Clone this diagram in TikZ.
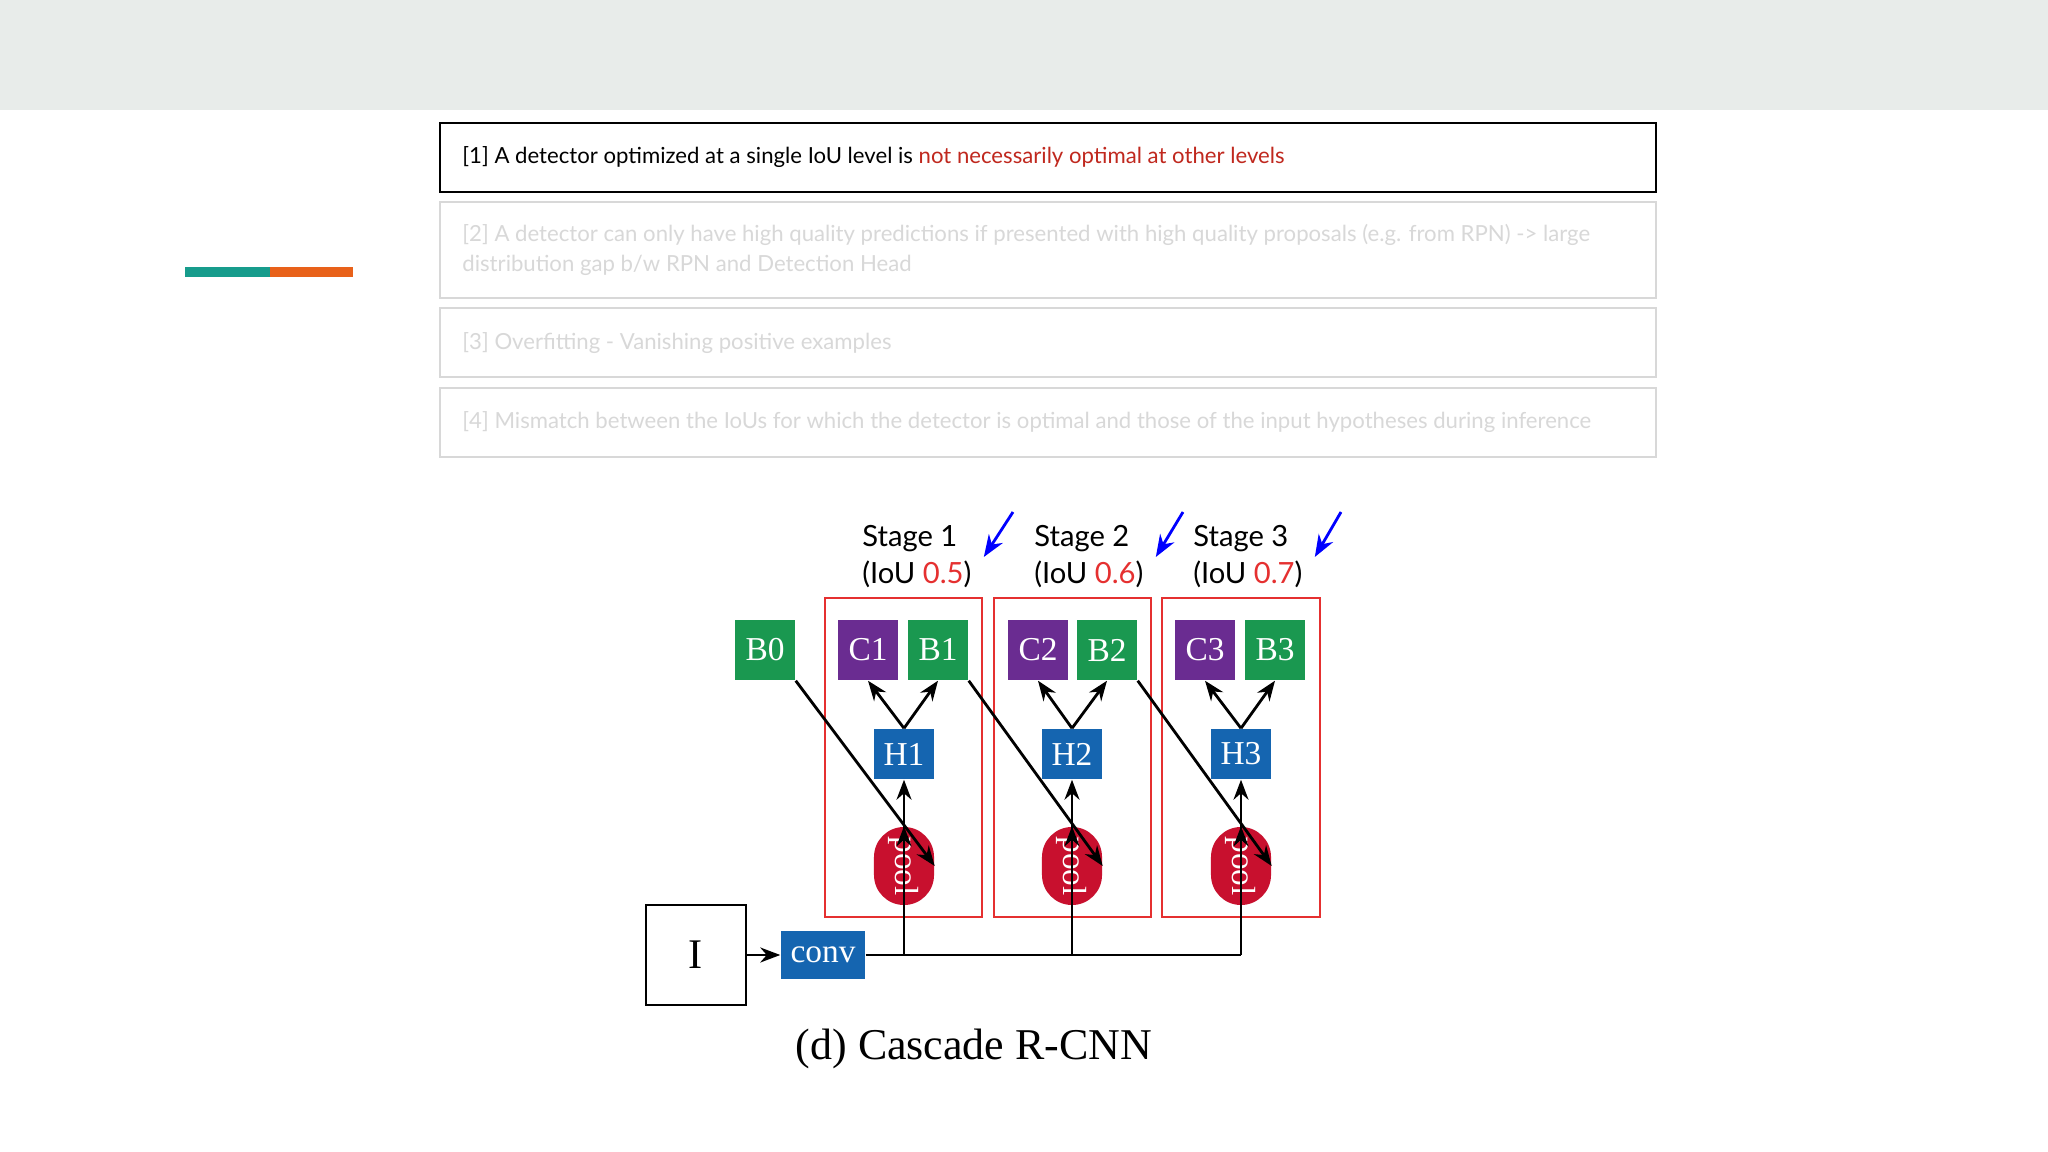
\documentclass[tikz,border=0pt]{standalone}
\usepackage{fontspec}
\setmainfont{Lato}
\newfontfamily\capfont{Liberation Serif}
\usetikzlibrary{arrows.meta,shapes.misc}
\definecolor{bandgray}{HTML}{E8ECEA}
\definecolor{teal}{HTML}{179C8C}
\definecolor{orng}{HTML}{E8611A}
\definecolor{hired}{HTML}{C0281E}
\definecolor{faint}{HTML}{D8D8D8}
\definecolor{boxgreen}{HTML}{1A9850}
\definecolor{boxpurple}{HTML}{6A2C91}
\definecolor{boxblue}{HTML}{1565B0}
\definecolor{poolred}{HTML}{C8102E}
\definecolor{stagered}{HTML}{E53030}
\tikzset{
  item/.style={anchor=west,font=\fontsize{6.3}{8.5}\selectfont,align=left},
  blk/.style={minimum width=0.6cm,minimum height=0.6cm,inner sep=0pt,text=white,font=\capfont\fontsize{9.5}{10}\selectfont},
  bbox/.style={blk,fill=boxgreen},
  cbox/.style={blk,fill=boxpurple},
  hbox/.style={blk,fill=boxblue,minimum height=0.5cm},
  pool/.style={blk,fill=poolred,rounded rectangle,minimum width=0.78cm,minimum height=0.6cm,rotate=-90},
  stage/.style={anchor=west,font=\fontsize{8.3}{10.5}\selectfont,align=left},
  arr/.style={-{Stealth[length=2mm]},thick},
  barr/.style={-{Stealth[length=2.2mm]},blue,thick}
}
\begin{document}
\begin{tikzpicture}[x=0.01cm,y=-0.01cm]
  \useasboundingbox (0,0) rectangle (2048,1152);
  \fill[white] (0,0) rectangle (2048,1152);
  \fill[bandgray] (0,0) rectangle (2048,110);

  % accent bar
  \draw[teal,line width=2.6pt] (185,272) -- (270,272);
  \draw[orng,line width=2.6pt] (270,272) -- (353,272);

  % items
  \draw[thick] (440,123) rectangle (1656,192);
  \node[item] (i1) at (450,157) {[1] A detector optimized at a single IoU level is \textcolor{hired}{not necessarily optimal at other levels}};
  \draw[faint] (440,202) rectangle (1656,298);
  \node[item,text=faint] (i2) at (450,250) {[2] A detector can only have high quality predictions if presented with high quality proposals (e.g. from RPN) -> large\\distribution gap b/w RPN and Detection Head};
  \draw[faint] (440,308) rectangle (1656,377);
  \node[item,text=faint] (i3) at (450,343) {[3] Overfitting - Vanishing positive examples};
  \draw[faint] (440,388) rectangle (1656,457);
  \node[item,text=faint] (i4) at (450,422) {[4] Mismatch between the IoUs for which the detector is optimal and those of the input hypotheses during inference};

  % stage labels
  \node[stage] (s1) at (850,557) {Stage 1\\(IoU \textcolor{stagered}{0.5})};
  \node[stage] (s2) at (1022,557) {Stage 2\\(IoU \textcolor{stagered}{0.6})};
  \node[stage] (s3) at (1181,557) {Stage 3\\(IoU \textcolor{stagered}{0.7})};
  \coordinate (t1) at (1013,512);
  \coordinate (t2) at (1183,512);
  \coordinate (t3) at (1341,512);
  \draw[barr] (t1) -- (s1.east);
  \draw[barr] (t2) -- (s2.east);
  \draw[barr] (t3) -- (s3.east);

  % stage boxes
  \draw[stagered,thick] (825,598) rectangle (982,917);
  \draw[stagered,thick] (994,598) rectangle (1151,917);
  \draw[stagered,thick] (1162,598) rectangle (1320,917);

  % blocks
  \node[bbox] (B0) at (765,650) {B0};
  \node[cbox] (C1) at (868,650) {C1};
  \node[bbox] (B1) at (938,650) {B1};
  \node[cbox] (C2) at (1038,650) {C2};
  \node[bbox] (B2) at (1107,650) {B2};
  \node[cbox] (C3) at (1205,650) {C3};
  \node[bbox] (B3) at (1275,650) {B3};
  \node[hbox] (H1) at (904,754) {H1};
  \node[hbox] (H2) at (1072,754) {H2};
  \node[hbox] (H3) at (1241,754) {H3};
  \node[pool] (P1) at (904,866) {pool};
  \node[pool] (P2) at (1072,866) {pool};
  \node[pool] (P3) at (1241,866) {pool};
  \node[draw,thick,minimum size=1cm] (I) at (696,955) {\capfont\fontsize{12}{12}\selectfont I};
  \node[blk,fill=boxblue,minimum width=0.84cm,minimum height=0.48cm] (conv) at (823,955) {conv};
  \coordinate (j3) at (1241,955);

  % connectors
  \draw[arr] (I) -- (conv);
  \draw[thick] (conv) -- (j3);
  \draw[arr] (904,955) -- (P1.west);
  \draw[arr] (1072,955) -- (P2.west);
  \draw[arr] (j3) -- (P3.west);
  \foreach \n in {1,2,3}{
    \draw[arr] (P\n.east) -- (H\n);
    \draw[arr] (H\n.north) -- (C\n.south);
    \draw[arr] (H\n.north) -- (B\n.south);
  }
  \draw[arr] (B0.south east) -- (P1.north);
  \draw[arr] (B1.south east) -- (P2.north);
  \draw[arr] (B2.south east) -- (P3.north);

  % caption
  \node[font=\capfont\fontsize{12.5}{14}\selectfont] (cap) at (974,1049) {(d) Cascade R-CNN};
\end{tikzpicture}
\end{document}
